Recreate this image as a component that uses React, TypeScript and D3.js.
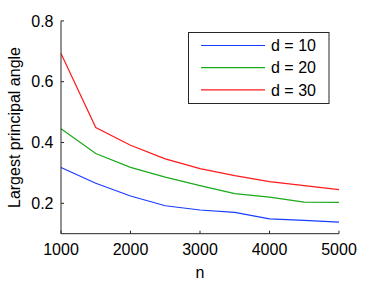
import React from "react";
import * as d3 from "d3";

const nValues = [1000, 1500, 2000, 2500, 3000, 3500, 4000, 4500, 5000];
const d10 = [0.318, 0.266, 0.224, 0.192, 0.178, 0.170, 0.149, 0.144, 0.138];
const d20 = [0.445, 0.364, 0.318, 0.286, 0.258, 0.232, 0.220, 0.204, 0.203];
const d30 = [0.693, 0.449, 0.391, 0.346, 0.314, 0.291, 0.271, 0.258, 0.245];
const seriesLabels = ["d = 10", "d = 20", "d = 30"];
const seriesColors = ["#1a3cff", "#1aaa1a", "#ff1a1a"];
const xTicks = [1000, 2000, 3000, 4000, 5000];
const yTicks = [0.2, 0.4, 0.6, 0.8];

export default function App() {
  const W = 374, H = 283;
  const x = d3.scaleLinear().domain([1000, 5000]).range([61, 339]);
  const y = d3.scaleLinear().domain([0.1, 0.8]).range([233.7, 20.9]);
  const series = [d10, d20, d30];
  const line = d3.line<number>().x((_, i) => x(nValues[i])).y((v) => y(v));
  const font = "'Liberation Sans', Arial, sans-serif";
  const axisColor = "#262626";
  const fs = 16;
  return (
    <svg width={W} height={H} style={{ position: "absolute", left: 0, top: 0 }} fontFamily={font}>
      <rect width={W} height={H} fill="#fff" />
      {series.map((s, i) => (
        <path key={i} d={line(s) || ""} fill="none" stroke={seriesColors[i]} strokeWidth={1.2} />
      ))}
      <line x1={x(1000)} x2={x(1000)} y1={y(0.8)} y2={y(0.1)} stroke={axisColor} strokeWidth={1} />
      <line x1={x(1000)} x2={x(5000)} y1={y(0.1)} y2={y(0.1)} stroke={axisColor} strokeWidth={1} />
      {yTicks.map((t) => (
        <g key={t}>
          <line x1={x(1000)} x2={x(1000) + 3} y1={y(t)} y2={y(t)} stroke={axisColor} />
          <text x={x(1000) - 7.5} y={y(t)} dy="0.36em" textAnchor="end" fontSize={fs} fill="#000">
            {t.toFixed(1)}
          </text>
        </g>
      ))}
      {xTicks.map((t) => (
        <g key={t}>
          <line x1={x(t)} x2={x(t)} y1={y(0.1)} y2={y(0.1) - 3} stroke={axisColor} />
          <text x={x(t)} y={254.5} textAnchor="middle" fontSize={fs} fill="#000">
            {t}
          </text>
        </g>
      ))}
      <text x={200} y={278} textAnchor="middle" fontSize={fs} fill="#000">n</text>
      <text transform={`translate(19.5,127.5) rotate(-90)`} textAnchor="middle" fontSize={fs} fill="#000">
        Largest principal angle
      </text>
      <rect x={188.5} y={32.5} width={140.5} height={71} fill="#fff" stroke={axisColor} strokeWidth={1} />
      {seriesLabels.map((lab, i) => {
        const ly = 45.5 + i * 22.2;
        return (
          <g key={lab}>
            <line x1={201} x2={265} y1={ly} y2={ly} stroke={seriesColors[i]} strokeWidth={1.2} />
            <text x={271} y={ly} dy="0.36em" fontSize={fs} fill="#000">{lab}</text>
          </g>
        );
      })}
    </svg>
  );
}
